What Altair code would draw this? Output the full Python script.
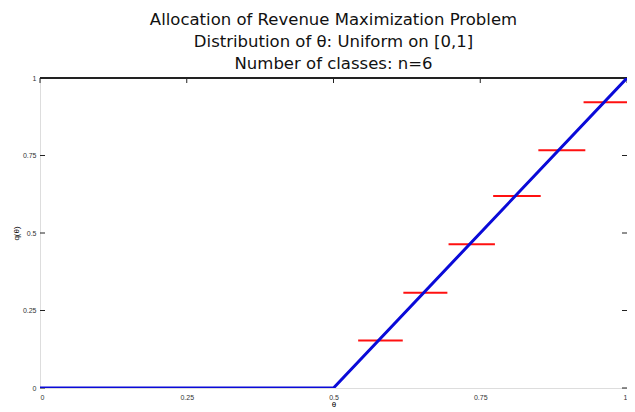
import altair as alt
import pandas as pd

# Allocation curve (blue)
theta = [0.0, 0.5, 1.0]
alloc = [0.0, 0.0, 1.0]

# Class allocations (red horizontal segments)
seg_start = [0.542, 0.619, 0.696, 0.772, 0.849, 0.926]
seg_end = [0.618, 0.694, 0.775, 0.853, 0.929, 1.0]
seg_level = [0.153, 0.307, 0.464, 0.619, 0.767, 0.922]

# Tick values
x_ticks = [0.0, 0.25, 0.5, 0.75, 1.0]
y_ticks = [0.0, 0.25, 0.5, 0.75, 1.0]

title_lines = [
    "Allocation of Revenue Maximization Problem",
    "Distribution of θ: Uniform on [0,1]",
    "Number of classes: n=6",
]

W, H = 587, 310

line_df = pd.DataFrame({"theta": theta, "q": alloc})
seg_df = pd.DataFrame({"x1": seg_start, "x2": seg_end, "y": seg_level})
yt_df = pd.DataFrame({"v": y_ticks})
xt_df = pd.DataFrame({"v": x_ticks})

xs = alt.Scale(domain=[0, 1], nice=False, zero=False)
ys = alt.Scale(domain=[0, 1], nice=False, zero=False)

x_axis = alt.Axis(values=x_ticks, format=".2~f", domain=False, ticks=False, grid=False,
                  labelFontSize=7, labelPadding=5, labelColor="#333333",
                  title="θ", titleFontSize=8, titleFontWeight="normal", titleY=12)
y_axis = alt.Axis(values=y_ticks, format=".2~f", domain=False, ticks=False, grid=False,
                  labelFontSize=7, labelPadding=4, labelColor="#333333",
                  title="q(θ)", titleFontSize=8, titleFontWeight="normal", titleX=-20)

base_line = alt.Chart(line_df).mark_line(color="#0a0ad8", strokeWidth=3, clip=True).encode(
    x=alt.X("theta:Q", scale=xs, axis=x_axis),
    y=alt.Y("q:Q", scale=ys, axis=y_axis),
)

segs = alt.Chart(seg_df).mark_rule(color="#ff1010", strokeWidth=2).encode(
    x=alt.X("x1:Q", scale=xs),
    x2="x2:Q",
    y=alt.Y("y:Q", scale=ys),
)

top_rule = alt.Chart(xt_df).mark_rule(color="#222222", strokeWidth=2).encode(
    x=alt.value(0), x2=alt.value(W), y=alt.value(0)
)

left_ticks = alt.Chart(yt_df).mark_rule(color="#222222", strokeWidth=1).encode(
    y=alt.Y("v:Q", scale=ys), x=alt.value(0), x2=alt.value(5)
)
right_ticks = alt.Chart(yt_df).mark_rule(color="#222222", strokeWidth=1).encode(
    y=alt.Y("v:Q", scale=ys), x=alt.value(W - 5), x2=alt.value(W)
)
top_ticks = alt.Chart(xt_df).mark_rule(color="#222222", strokeWidth=1).encode(
    x=alt.X("v:Q", scale=xs), y=alt.value(0), y2=alt.value(5)
)

chart = alt.layer(left_ticks, right_ticks, top_ticks, top_rule, segs, base_line).properties(
    width=W,
    height=H,
    title=alt.TitleParams(text=title_lines, fontSize=16.5, fontWeight="normal",
                          font="DejaVu Sans", lineHeight=22, offset=2,
                          anchor="middle", color="#111111"),
    autosize=alt.AutoSizeParams(type="none"),
    padding={"left": 32, "top": 70, "right": 0, "bottom": 22},
).configure_view(stroke="#e6e6e6", strokeWidth=1).configure(
    font="Liberation Sans", background="white"
)

chart.save("out.html", embed_options={"renderer": "svg", "actions": False})
